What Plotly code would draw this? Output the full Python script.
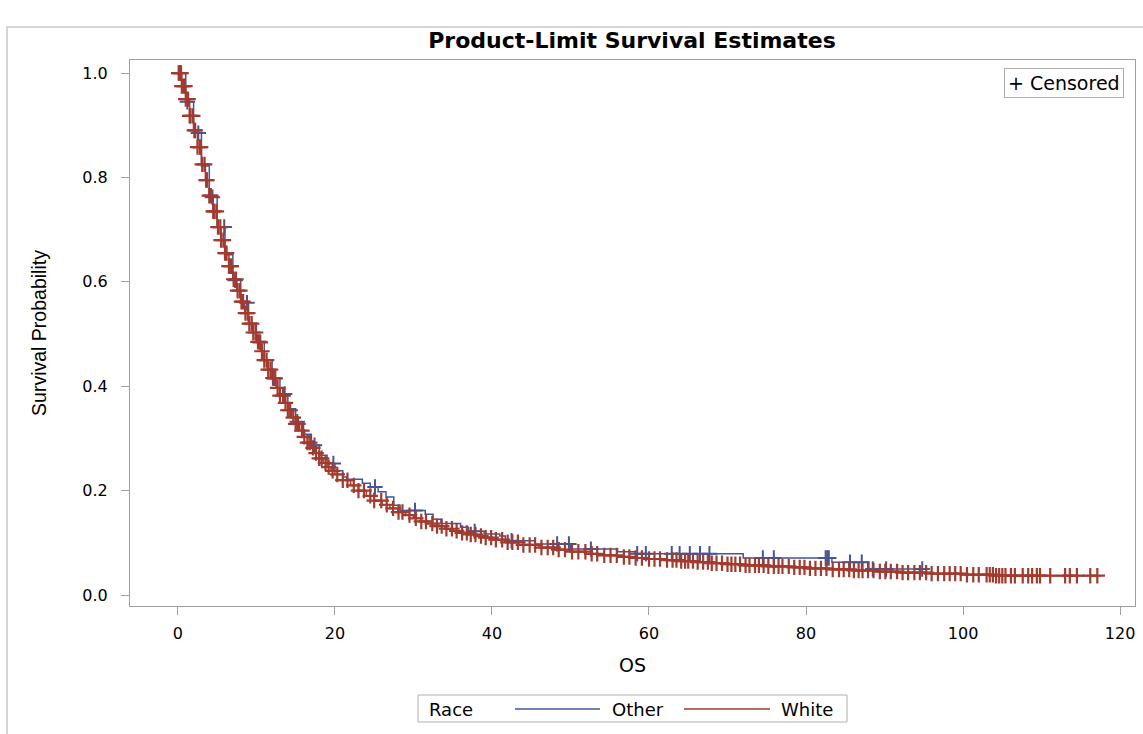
import numpy as np
import plotly.graph_objects as go

# ---------------- data ----------------
white_time = [0, 0.5, 1.0, 1.5, 2.0, 2.5, 3.0, 3.5, 4.0, 4.5, 5.0, 5.5, 6.0, 6.5, 7.0, 7.5,
              8.0, 8.5, 9.0, 9.5, 10, 10.5, 11, 11.5, 12, 12.5, 13, 13.5, 14, 14.5, 15,
              15.5, 16, 16.5, 17, 17.5, 18, 18.5, 19, 19.5, 20, 21, 22, 23, 24, 25, 26,
              27, 28, 29, 30, 31, 32, 33, 34, 35, 36, 37, 38, 39, 40, 42, 44, 46, 48, 50,
              52, 54, 56, 58, 60, 62, 64, 66, 68, 70, 72, 75, 78, 80, 83, 86, 89, 92, 96,
              100, 104, 117.5]
white_surv = [1.0, 0.975, 0.950, 0.918, 0.890, 0.858, 0.825, 0.795, 0.765, 0.735, 0.705,
              0.680, 0.655, 0.630, 0.605, 0.583, 0.562, 0.540, 0.520, 0.503, 0.485, 0.467,
              0.450, 0.432, 0.415, 0.397, 0.382, 0.368, 0.354, 0.340, 0.328, 0.315, 0.303,
              0.292, 0.282, 0.272, 0.262, 0.253, 0.245, 0.238, 0.231, 0.220, 0.210, 0.200,
              0.190, 0.181, 0.173, 0.166, 0.159, 0.153, 0.147, 0.141, 0.137, 0.132, 0.127,
              0.123, 0.119, 0.116, 0.113, 0.110, 0.106, 0.101, 0.096, 0.091, 0.087, 0.083,
              0.079, 0.076, 0.073, 0.071, 0.069, 0.067, 0.065, 0.063, 0.061, 0.059, 0.057,
              0.055, 0.053, 0.051, 0.049, 0.047, 0.045, 0.043, 0.041, 0.039, 0.037, 0.036]

other_time = [0, 1, 2, 3, 4, 5, 6, 7, 8, 9, 10, 11, 12, 13, 14, 15, 16, 17, 18, 19, 20,
              21, 21.5, 23.5, 24.5, 25.5, 26.5, 27.5, 28.3, 31.5, 32.5, 33.5, 36, 37, 39,
              41, 41.7, 45.5, 50, 56, 58.2, 72, 83.3, 88, 95]
other_surv = [1.0, 0.945, 0.885, 0.822, 0.762, 0.705, 0.652, 0.603, 0.560, 0.520, 0.484,
              0.450, 0.416, 0.385, 0.357, 0.332, 0.308, 0.287, 0.268, 0.252, 0.238, 0.226,
              0.222, 0.214, 0.207, 0.198, 0.188, 0.172, 0.162, 0.155, 0.145, 0.137, 0.130,
              0.122, 0.117, 0.113, 0.104, 0.098, 0.088, 0.083, 0.079, 0.071, 0.063, 0.050,
              0.048]

white_censor = [0.1, 0.2, 0.4, 0.5, 0.7, 0.9, 1.0, 1.3, 1.5, 1.6, 1.9, 2.1, 2.2, 2.5, 2.8,
                2.9, 3.1, 3.4, 3.6, 3.7, 4.0, 4.2, 4.5, 4.6, 4.9, 5.1, 5.4, 5.5, 5.8, 6.0,
                6.2, 6.5, 6.7, 6.8, 7.1, 7.4, 7.6, 7.9, 8.1, 8.3, 8.6, 8.9, 9.1, 9.4, 9.6,
                9.9, 10.2, 10.4, 10.7, 11.0, 11.3, 11.5, 11.8, 12.2, 12.4, 12.7, 13.0, 13.4,
                13.7, 14.0, 14.3, 14.7, 15.0, 15.3, 15.8, 16.1, 16.5, 16.8, 17.2, 17.6,
                18.0, 18.3, 18.8, 19.2, 19.7,
                20.3, 21.0, 21.6, 22.4, 23.0, 23.7, 24.5, 25.0, 25.9, 26.6, 27.4, 28.1,
                28.6, 29.5, 30.3, 31.0, 31.6, 32.4, 33.0, 33.6, 34.2, 34.9, 35.5, 36.2,
                36.8, 37.3, 37.9, 38.6, 39.2, 39.9, 40.5, 41.3, 42.0, 42.6, 43.3, 44.0,
                44.8, 45.5, 46.3, 47.1, 47.8, 48.5, 49.3, 50.2, 51.0, 51.9, 52.7, 53.4,
                54.3, 55.1, 55.9, 56.8, 57.5, 58.3, 59.1,
                60.0, 60.7, 61.4, 62.3, 63.0, 63.5, 64.1, 64.6, 65.0, 65.6, 66.2, 66.9,
                67.5, 68.0, 68.6, 69.3, 70.0, 70.5, 71.0, 71.6, 72.3, 72.8, 73.5, 74.0,
                74.6, 75.2, 75.9, 76.5, 77.0, 77.8, 78.5, 79.2, 79.8, 80.5, 81.2, 81.9,
                82.6, 83.4, 84.2, 84.8, 85.5, 86.1, 86.7, 87.2, 87.9, 88.6, 89.4, 90.1,
                90.8, 91.6, 92.3, 93.0, 93.8, 94.5, 95.3, 96.0, 96.8, 97.6, 98.3, 99.0,
                99.7, 100.5, 101.3, 102.0, 103.0, 103.4, 103.8, 104.2, 104.6, 105.0,
                105.4, 106.1, 106.6, 107.6, 108.3, 108.8, 109.4, 109.8, 111.1, 113.0,
                113.6, 114.5, 116.2, 117.1]
other_censor = [0.3, 1.2, 2.6, 4.4, 5.9, 7.3, 8.8, 10.5, 12.1, 13.6, 15.2, 17.4, 19.8,
                25.1, 30.2, 37.8, 42.5, 48.3, 49.8, 52.6, 58.5, 59.6, 62.9, 63.9, 65.2,
                66.5, 67.7, 74.5, 75.9, 82.5, 82.7, 82.9, 85.6, 87.1, 88.5, 90.2, 94.8]

x_ticks = [0, 20, 40, 60, 80, 100, 120]
y_ticks = [0.0, 0.2, 0.4, 0.6, 0.8, 1.0]
y_tick_labels = ["0.0", "0.2", "0.4", "0.6", "0.8", "1.0"]

BLUE = "#445694"
RED = "#A23A2E"
GRID = "#A0A0A0"


def step_lookup(times, surv, t_query):
    idx = np.searchsorted(np.asarray(times), np.asarray(t_query), side="right") - 1
    idx = np.clip(idx, 0, len(surv) - 1)
    return list(np.asarray(surv)[idx])


fig = go.Figure()
fig.add_trace(go.Scatter(x=other_time, y=other_surv, mode="lines", line=dict(color=BLUE, width=1.5, shape="hv"),
                         name="Other", showlegend=False, hoverinfo="skip"))
fig.add_trace(go.Scatter(x=other_censor, y=step_lookup(other_time, other_surv, other_censor), mode="markers",
                         marker=dict(symbol="cross-thin", size=11, line=dict(color=BLUE, width=2)),
                         name="Other censored", showlegend=False))
fig.add_trace(go.Scatter(x=white_time, y=white_surv, mode="lines", line=dict(color=RED, width=1.5, shape="hv"),
                         name="White", showlegend=False, hoverinfo="skip"))
fig.add_trace(go.Scatter(x=white_censor, y=step_lookup(white_time, white_surv, white_censor), mode="markers",
                         marker=dict(symbol="cross-thin", size=11, line=dict(color=RED, width=2.2)),
                         name="White censored", showlegend=False))

FONT = "DejaVu Sans, Verdana, sans-serif"
NARROW = "Liberation Sans Narrow, Arial Narrow, sans-serif"
L, R, T, B = 130, 8, 60, 128
W, H = 1143, 734
pw, ph = W - L - R, H - T - B


def px_x(px):
    return (px - L) / pw


def px_y(py):
    return (H - B - py) / ph


fig.update_layout(
    width=W, height=H,
    margin=dict(l=L, r=R, t=T, b=B),
    paper_bgcolor="white", plot_bgcolor="white",
    showlegend=False,
    title=dict(text="<b>Product-Limit Survival Estimates</b>", xref="container", x=632 / W, xanchor="center",
               yref="container", y=1 - 40 / H, yanchor="middle",
               font=dict(family=FONT, size=22, color="black")),
    xaxis=dict(range=[-6.1, 121.9], tickvals=x_ticks, ticks="outside", ticklen=8, tickcolor=GRID,
               showline=True, linecolor=GRID, mirror=True, showgrid=False, zeroline=False,
               ticklabelstandoff=5,
               tickfont=dict(family=FONT, size=16, color="black"),
               title=dict(text="OS", font=dict(family=FONT, size=19, color="black"), standoff=16)),
    yaxis=dict(range=[-0.021, 1.025], tickvals=y_ticks, ticktext=y_tick_labels, ticks="outside",
               ticklen=8, tickcolor=GRID, showline=True, linecolor=GRID, mirror=True, showgrid=False,
               zeroline=False, ticklabelstandoff=10, tickfont=dict(family=FONT, size=16, color="black"),
               title=dict(text="Survival Probability",
                          font=dict(family=NARROW, size=19.5, color="black"), standoff=30)),
)

# outer frame of the graph
fig.add_shape(type="rect", xref="paper", yref="paper", x0=px_x(7), x1=px_x(1160), y0=px_y(745), y1=px_y(27),
              line=dict(color="#C8C8C8", width=1.5), layer="below")

# censored legend (top right)
fig.add_annotation(xref="paper", yref="paper", x=px_x(1124), y=px_y(68), xanchor="right", yanchor="top",
                   text="+ Censored", showarrow=False, font=dict(family=FONT, size=19, color="black"),
                   bordercolor="#B0B0B0", borderwidth=1, borderpad=3, bgcolor="white")

# bottom legend
fig.add_shape(type="rect", xref="paper", yref="paper", x0=px_x(418), x1=px_x(847), y0=px_y(722), y1=px_y(695),
              line=dict(color="#B0B0B0", width=1), fillcolor="white")
fig.add_annotation(xref="paper", yref="paper", x=px_x(427), y=px_y(709), xanchor="left", yanchor="middle",
                   text="Race", showarrow=False, font=dict(family=FONT, size=18, color="black"))
fig.add_shape(type="line", xref="paper", yref="paper", x0=px_x(515), x1=px_x(600), y0=px_y(709), y1=px_y(709),
              line=dict(color=BLUE, width=1.5))
fig.add_annotation(xref="paper", yref="paper", x=px_x(610), y=px_y(709), xanchor="left", yanchor="middle",
                   text="Other", showarrow=False, font=dict(family=FONT, size=18, color="black"))
fig.add_shape(type="line", xref="paper", yref="paper", x0=px_x(684), x1=px_x(770), y0=px_y(709), y1=px_y(709),
              line=dict(color=RED, width=1.5))
fig.add_annotation(xref="paper", yref="paper", x=px_x(779), y=px_y(709), xanchor="left", yanchor="middle",
                   text="White", showarrow=False, font=dict(family=FONT, size=18, color="black"))

fig.write_html("out.html")
